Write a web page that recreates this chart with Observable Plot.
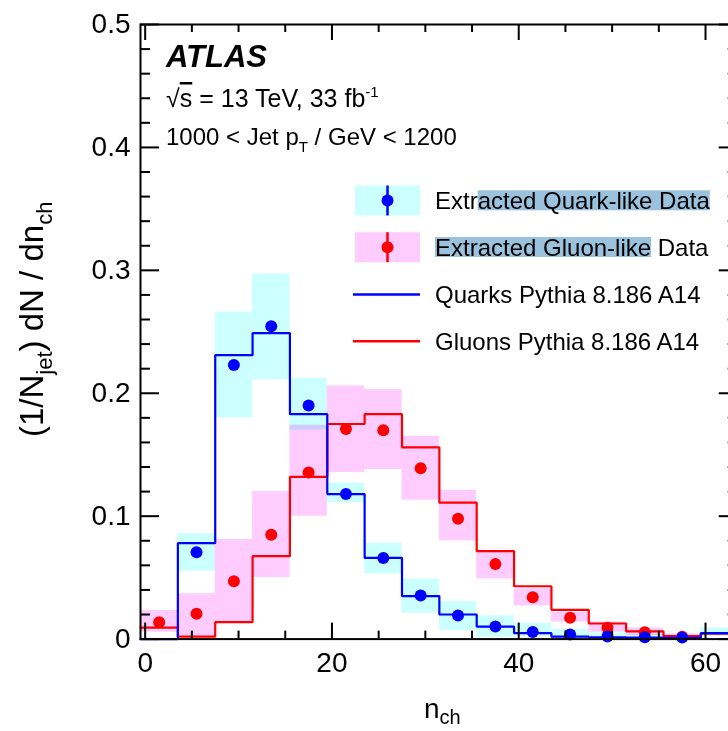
<!DOCTYPE html>
<html><head><meta charset="utf-8">
<script src="https://cdn.jsdelivr.net/npm/d3@7"></script>
<script src="https://cdn.jsdelivr.net/npm/@observablehq/plot@0.6"></script>
<style>
html,body{margin:0;padding:0;background:#fff;color:#000;}
#wrap{position:relative;width:728px;height:731px;overflow:hidden;}
#wrap svg{position:absolute;left:0;top:0;}
</style></head><body><div id="wrap"></div>
<script>
// ---- data (bins of width 4 in n_ch) ----
const binLow    = [-0.5, 3.5, 7.5, 11.5, 15.5, 19.5, 23.5, 27.5, 31.5, 35.5, 39.5, 43.5, 47.5, 51.5, 55.5, 59.5];
const binHigh   = [3.5, 7.5, 11.5, 15.5, 19.5, 23.5, 27.5, 31.5, 35.5, 39.5, 43.5, 47.5, 51.5, 55.5, 59.5, 63.5];
const binCenter = [1.5, 5.5, 9.5, 13.5, 17.5, 21.5, 25.5, 29.5, 33.5, 37.5, 41.5, 45.5, 49.5, 53.5, 57.5, 61.5];

const quarkMC   = [0.0, 0.078, 0.231, 0.249, 0.183, 0.118, 0.066, 0.035, 0.020, 0.0102, 0.0048, 0.002, 0.0015, 0.0012, 0.001, 0.0048];
const quarkData = [null, 0.0707, 0.223, 0.2545, 0.190, 0.118, 0.066, 0.0355, 0.0192, 0.0102, 0.0058, 0.0038, 0.0021, 0.0015, 0.0012, null];
const quarkLo   = [null, 0.0553, 0.180, 0.211, 0.170, 0.111, 0.053, 0.021, 0.007, 0.0015, 0.002, 0.0005, 0.0, 0.0, 0.0, 0.002];
const quarkHi   = [null, 0.0857, 0.266, 0.297, 0.212, 0.127, 0.078, 0.049, 0.0306, 0.019, 0.013, 0.008, 0.005, 0.004, 0.003, 0.009];

const gluonMC   = [0.0094, 0.002, 0.0138, 0.0675, 0.132, 0.175, 0.183, 0.156, 0.111, 0.0715, 0.043, 0.0238, 0.0127, 0.0063, 0.0025, 0.0045];
const gluonData = [0.0138, 0.0206, 0.047, 0.0849, 0.1355, 0.171, 0.170, 0.139, 0.098, 0.061, 0.034, 0.0173, 0.0092, 0.0056, 0.002, null];
const gluonLo   = [0.0056, 0.0015, 0.014, 0.050, 0.100, 0.1355, 0.138, 0.113, 0.080, 0.049, 0.027, 0.0138, 0.0056, 0.003, 0.001, null];
const gluonHi   = [0.0233, 0.037, 0.081, 0.120, 0.174, 0.206, 0.203, 0.165, 0.121, 0.0707, 0.041, 0.022, 0.0138, 0.009, 0.004, null];

const xMajorTicks = [0, 20, 40, 60];
const xMinorTicks = [5, 10, 15, 25, 30, 35, 45, 50, 55];
const xTickLabels = ["0", "20", "40", "60"];
const yMajorTicks = [0, 0.1, 0.2, 0.3, 0.4, 0.5];
const yMinorTicks = [0.02, 0.04, 0.06, 0.08, 0.12, 0.14, 0.16, 0.18, 0.22, 0.24, 0.26, 0.28, 0.32, 0.34, 0.36, 0.38, 0.42, 0.44, 0.46, 0.48];
const yTickLabels = ["0", "0.1", "0.2", "0.3", "0.4", "0.5"];

const legendLabels = ["Extracted Quark-like Data", "Extracted Gluon-like Data", "Quarks Pythia 8.186 A14", "Gluons Pythia 8.186 A14"];

// ---- tables ----
const bins = binLow.map((lo, i) => ({
  lo, hi: binHigh[i], c: binCenter[i],
  qMC: quarkMC[i], qD: quarkData[i], qLo: quarkLo[i], qHi: quarkHi[i],
  gMC: gluonMC[i], gD: gluonData[i], gLo: gluonLo[i], gHi: gluonHi[i]
}));
const last = bins[bins.length - 1];
const qStep = bins.map(b => ({x: b.lo, y: b.qMC})).concat([{x: last.hi, y: last.qMC}]);
const gStep = bins.map(b => ({x: b.lo, y: b.gMC})).concat([{x: last.hi, y: last.gMC}]);

const BLUE = "#0000ff", RED = "#ff0000", CYAN = "#ccffff", PINK = "#ffccff";
const FONT = "'Liberation Sans', Arial, Helvetica, sans-serif";

const W = 728, H = 731, ML = 140, MR = -9.7, MT = 24, MB = 92.4;
const plotW = W - MR - ML, plotH = H - MB - MT;

const chart = Plot.plot({
  width: W, height: H,
  marginLeft: ML, marginRight: MR, marginTop: MT, marginBottom: MB,
  x: {domain: [-0.5, 63.5]},
  y: {domain: [0, 0.5]},
  style: {fontFamily: FONT, background: "transparent", color: "#000"},
  marks: [
    Plot.rect(bins.filter(d => d.qLo != null), {x1: "lo", x2: "hi", y1: "qLo", y2: "qHi", fill: CYAN, mixBlendMode: "multiply"}),
    Plot.rect(bins.filter(d => d.gLo != null), {x1: "lo", x2: "hi", y1: "gLo", y2: "gHi", fill: PINK, mixBlendMode: "multiply"}),
    Plot.line(gStep, {x: "x", y: "y", curve: "step-after", stroke: RED, strokeWidth: 2.2, strokeLinejoin: "miter"}),
    Plot.line(qStep, {x: "x", y: "y", curve: "step-after", stroke: BLUE, strokeWidth: 2.2, strokeLinejoin: "miter"}),
    Plot.dot(bins.filter(d => d.gD != null), {x: "c", y: "gD", r: 6, fill: RED, stroke: null}),
    Plot.dot(bins.filter(d => d.qD != null), {x: "c", y: "qD", r: 6, fill: BLUE, stroke: null}),
    // inward ticks
    Plot.tickY(yMajorTicks, {y: d => d, insetRight: plotW - 19, stroke: "#000", strokeWidth: 2}),
    Plot.tickY(yMinorTicks, {y: d => d, insetRight: plotW - 10, stroke: "#000", strokeWidth: 2}),
    Plot.tickY(yMajorTicks, {y: d => d, insetLeft: plotW - 19, stroke: "#000", strokeWidth: 2}),
    Plot.tickY(yMinorTicks, {y: d => d, insetLeft: plotW - 10, stroke: "#000", strokeWidth: 2}),
    Plot.tickX(xMajorTicks, {x: d => d, insetTop: plotH - 16, stroke: "#000", strokeWidth: 2}),
    Plot.tickX(xMinorTicks, {x: d => d, insetTop: plotH - 8, stroke: "#000", strokeWidth: 2}),
    Plot.tickX(xMajorTicks, {x: d => d, insetBottom: plotH - 16, stroke: "#000", strokeWidth: 2}),
    Plot.tickX(xMinorTicks, {x: d => d, insetBottom: plotH - 8, stroke: "#000", strokeWidth: 2}),
    Plot.frame({stroke: "#000", strokeWidth: 2}),
    Plot.axisY(yMajorTicks, {tickSize: 0, tickPadding: 10, fontSize: 28, label: null,
      tickFormat: d => yTickLabels[yMajorTicks.indexOf(d)]}),
    Plot.axisX(xMajorTicks, {tickSize: 0, tickPadding: 13, fontSize: 28, label: null,
      tickFormat: d => xTickLabels[xMajorTicks.indexOf(d)]})
  ]
});

const wrap = document.getElementById("wrap");
wrap.appendChild(chart);

// ---- overlay: titles, ATLAS label and legend ----
const ov = d3.select(wrap).append("svg")
  .attr("width", W).attr("height", H)
  .style("font-family", FONT).style("pointer-events", "none");

// y title
const yt = ov.append("text").attr("transform", "translate(43,437) rotate(-90)")
  .attr("font-size", 33).attr("fill", "#000");
yt.append("tspan").text("(1/N");
yt.append("tspan").attr("font-size", 22).attr("dy", 9).text("jet");
yt.append("tspan").attr("dy", -9).text(") dN / dn");
yt.append("tspan").attr("font-size", 22).attr("dy", 9).text("ch");

// x title
const xt = ov.append("text").attr("x", 424).attr("y", 718).attr("font-size", 28).attr("fill", "#000");
xt.append("tspan").text("n");
xt.append("tspan").attr("font-size", 20).attr("dy", 6).text("ch");

// ATLAS labels
ov.append("text").attr("x", 166).attr("y", 67).attr("font-size", 31)
  .attr("font-weight", "bold").attr("font-style", "italic").text("ATLAS");
const s1 = ov.append("text").attr("x", 166).attr("y", 107).attr("font-size", 25);
s1.append("tspan").text("\u221A");
s1.append("tspan").style("text-decoration", "overline").text("s");
s1.append("tspan").text(" = 13 TeV, 33 fb");
s1.append("tspan").attr("font-size", 15).attr("dy", -10).text("-1");
const s2 = ov.append("text").attr("x", 166).attr("y", 145).attr("font-size", 24);
s2.append("tspan").text("1000 < Jet p");
s2.append("tspan").attr("font-size", 15).attr("dy", 7).text("T");
s2.append("tspan").attr("dy", -7).text(" / GeV < 1200");

// legend
const rows = [
  {kind: "data", fill: CYAN, color: BLUE, base: 209.3, hl: [4, 25]},
  {kind: "data", fill: PINK, color: RED, base: 256, hl: [0, 20]},
  {kind: "line", color: BLUE, base: 303.3},
  {kind: "line", color: RED, base: 350}
];
rows.forEach((r, i) => {
  const cy = r.base - 8.8;
  const g = ov.append("g");
  if (r.kind === "data") {
    g.append("rect").attr("x", 355).attr("y", cy - 15).attr("width", 65).attr("height", 30).attr("fill", r.fill);
    g.append("line").attr("x1", 387.5).attr("x2", 387.5).attr("y1", cy - 15).attr("y2", cy + 15)
      .attr("stroke", r.color).attr("stroke-width", 2.5);
    g.append("circle").attr("cx", 387.5).attr("cy", cy).attr("r", 6).attr("fill", r.color);
  } else {
    g.append("line").attr("x1", 353).attr("x2", 420).attr("y1", cy).attr("y2", cy)
      .attr("stroke", r.color).attr("stroke-width", 2.5);
  }
  const t = g.append("text").attr("x", 435).attr("y", r.base).attr("font-size", 24).attr("fill", "#000")
    .text(legendLabels[i]);
  if (r.hl) {
    const node = t.node();
    const x0 = 435 + (r.hl[0] > 0 ? node.getSubStringLength(0, r.hl[0]) : 0);
    const w = node.getSubStringLength(r.hl[0], r.hl[1] - r.hl[0]);
    g.insert("rect", "text").attr("x", x0).attr("y", r.base - 19).attr("width", w).attr("height", 20)
      .attr("fill", "#9ac2dd");
  }
});
</script></body></html>
